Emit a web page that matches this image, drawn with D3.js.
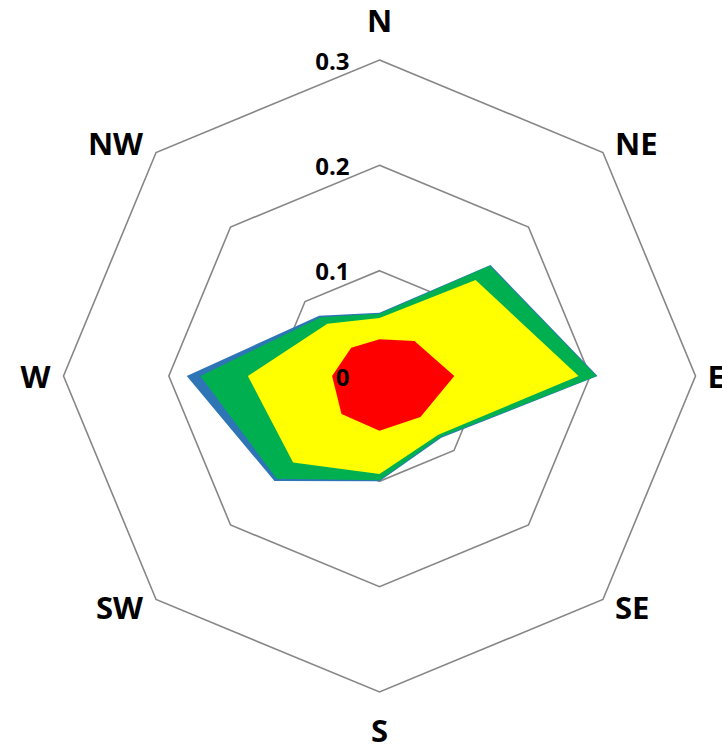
<!DOCTYPE html>
<html>
<head>
<meta charset="utf-8">
<script src="https://cdn.jsdelivr.net/npm/d3@7"></script>
<style>
  body { margin: 0; background: #fff; }
  svg { display: block; }
</style>
</head>
<body>
<svg width="722" height="753"></svg>
<script>
// wind directions, clockwise from north
const directions = ["N", "NE", "E", "SE", "S", "SW", "W", "NW"];
const ticks = [0, 0.1, 0.2, 0.3];

// series, drawn back to front
const seriesBlue   = [0.060, 0.149, 0.207, 0.083, 0.100, 0.141, 0.183, 0.081];
const seriesGreen  = [0.059, 0.148, 0.206, 0.082, 0.099, 0.138, 0.170, 0.079];
const seriesYellow = [0.055, 0.129, 0.189, 0.079, 0.093, 0.116, 0.125, 0.070];
const seriesRed    = [0.035, 0.047, 0.071, 0.055, 0.052, 0.051, 0.045, 0.038];

const series = [
  { values: seriesBlue,   color: "#2E75B6" },
  { values: seriesGreen,  color: "#00B050" },
  { values: seriesYellow, color: "#FFFF00" },
  { values: seriesRed,    color: "#FF0000" }
];

const cx = 379.5, cy = 376, R = 316;
const svg = d3.select("svg");
const g = svg.append("g").attr("transform", `translate(${cx},${cy})`);

const r = d3.scaleLinear().domain([0, 0.3]).range([0, R]);
const angle = d3.scalePoint().domain(directions).range([0, 2 * Math.PI * 7 / 8]);

const radial = d3.lineRadial()
  .angle(d => angle(d.dir))
  .radius(d => r(d.v))
  .curve(d3.curveLinearClosed);

// gridline rings
g.selectAll(".ring").data(ticks.filter(t => t > 0)).enter().append("path")
  .attr("class", "ring")
  .attr("d", t => radial(directions.map(dir => ({ dir, v: t }))))
  .attr("fill", "none")
  .attr("stroke", "#868686")
  .attr("stroke-width", 1.6);

// filled areas
g.selectAll(".area").data(series).enter().append("path")
  .attr("class", "area")
  .attr("d", s => radial(directions.map((dir, i) => ({ dir, v: s.values[i] }))))
  .attr("fill", s => s.color);

// tick labels along the north axis
g.selectAll(".tick").data(ticks).enter().append("text")
  .attr("class", "tick")
  .attr("x", -30)
  .attr("y", t => -r(t))
  .attr("text-anchor", "end")
  .attr("dominant-baseline", "central")
  .style("font-family", "'Open Sans', sans-serif")
  .style("font-weight", "bold")
  .style("font-size", "24px")
  .text(t => d3.format("")(t));

// direction labels
g.selectAll(".dir").data(directions).enter().append("text")
  .attr("class", "dir")
  .each(function(dir) {
    const a = angle(dir), s = Math.sin(a), c = Math.cos(a);
    let x = R * s, y = -R * c, anchor = "middle";
    if (Math.abs(s) < 0.1) {
      y += c > 0 ? -40 : 38;
    } else {
      x += s > 0 ? 12 : -13;
      y += Math.abs(c) < 0.1 ? 0 : (c > 0 ? -10 : 8);
      anchor = s > 0 ? "start" : "end";
    }
    d3.select(this).attr("x", x).attr("y", y).attr("text-anchor", anchor);
  })
  .attr("dominant-baseline", "central")
  .style("font-family", "'Open Sans', sans-serif")
  .style("font-weight", "bold")
  .style("font-size", "31px")
  .text(d => d);
</script>
</body>
</html>
